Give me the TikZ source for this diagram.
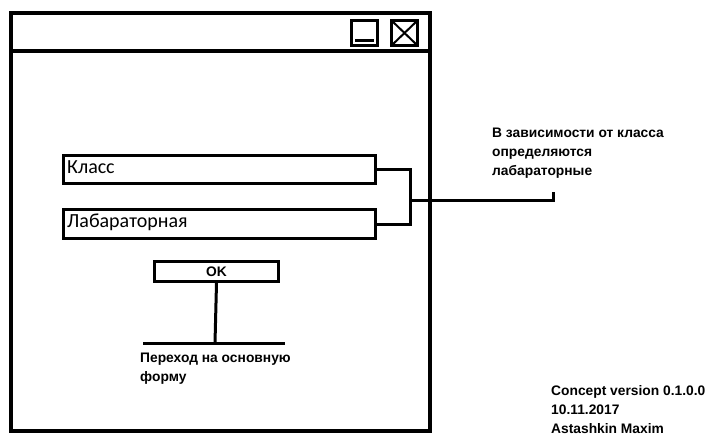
\documentclass[tikz,border=0pt]{standalone}
\usepackage{fontspec}
\setmainfont{Liberation Sans}
\newfontfamily\fieldfont{Carlito}
\newfontfamily\boldfont{Liberation Sans Bold}
\begin{document}
\begin{tikzpicture}[x=1pt,y=-1pt,
  frame/.style={draw=black,line width=4pt},
  thin/.style={draw=black,line width=3pt},
  fieldtext/.style={anchor=base west,inner sep=0pt,font=\fieldfont\fontsize{20}{22}\selectfont},
  boldtext/.style={anchor=base west,inner sep=0pt,font=\boldfont\fontsize{13.8}{16}\selectfont},
  ]
\useasboundingbox (0,0) rectangle (719,446);
% window
\draw[frame] (11,13) rectangle (430,431);
\draw[frame] (11,51) -- (430,51);
% buttons
\draw[thin] (351.5,20.5) rectangle (377.5,45.5);
\draw[thin] (355,41) -- (374,41);
\draw[thin] (391.5,20.5) rectangle (417.5,45.5);
\draw[line width=2pt] (391.5,20.5) -- (417.5,45.5) (417.5,20.5) -- (391.5,45.5);
% fields
\node[thin,draw,minimum width=312pt,minimum height=28pt,anchor=north west,inner sep=0pt] (klass) at (61.5,154.5) {};
\node[thin,draw,minimum width=312pt,minimum height=28pt,anchor=north west,inner sep=0pt] (lab) at (61.5,208.5) {};
\node[fieldtext] (tklass) at (67,174) {Класс};
\node[fieldtext] (tlab) at (67,227.5) {Лабараторная};
% bracket connector
\coordinate (bx) at (410,201);
\coordinate (ann) at (553,201);
\coordinate (annup) at (553,192);
\draw[thin] (klass.east) -| (bx) |- (lab.east);
\draw[thin] (bx) -- (ann) -- (annup);
\node[boldtext] (a1) at (492,138) {В зависимости от класса};
\node[boldtext] (a2) at (492,157) {определяются};
\node[boldtext] (a3) at (492,176) {лабараторные};
% OK
\node[thin,draw,minimum width=124pt,minimum height=20pt,anchor=north west,inner sep=0pt,font=\boldfont\fontsize{13.8}{16}\selectfont] (ok) at (153,260) {OK};
\coordinate (okend) at (215,343);
\coordinate (ol) at (143,343);
\coordinate (or) at (285,343);
\draw[thin] (ok.south) -- (okend);
\draw[thin] (ol) -- (or);
\node[boldtext] (p1) at (140,362) {Переход на основную};
\node[boldtext] (p2) at (140,381) {форму};
% credits
\node[boldtext] (c1) at (551,395) {Concept version 0.1.0.0};
\node[boldtext] (c2) at (551,414) {10.11.2017};
\node[boldtext] (c3) at (551,433) {Astashkin Maxim};
\end{tikzpicture}
\end{document}
